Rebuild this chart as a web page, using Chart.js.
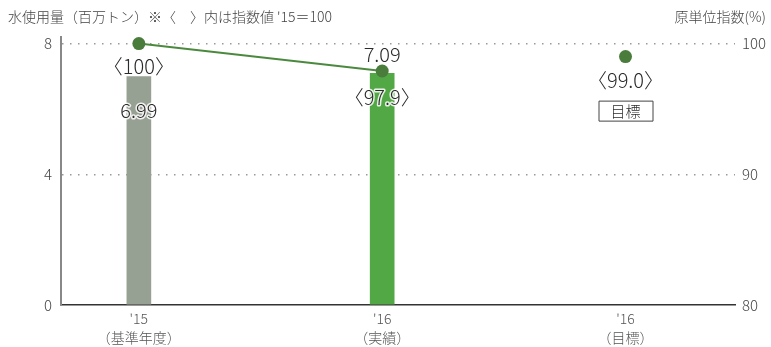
<!DOCTYPE html>
<html>
<head>
<meta charset="utf-8">
<script src="https://cdn.jsdelivr.net/npm/chart.js@4/dist/chart.umd.min.js"></script>
<style>
  html, body { margin: 0; padding: 0; background: #fff; }
  #wrap { width: 771px; height: 347px; position: relative; }
</style>
</head>
<body>
<div id="wrap"><canvas id="waterChart" width="771" height="347"></canvas></div>
<script>
const categories = [["'15", '（基準年度）'], ["'16", '（実績）'], ["'16", '（目標）']];
const waterUse = [6.99, 7.09];          // 百万トン
const indexActual = [100, 97.9];       // '15 = 100
const indexTarget = 99.0;
const leftTicks = [0, 4, 8];
const rightTicks = [80, 90, 100];

const FONT = "'Noto Sans CJK JP', 'Noto Sans', sans-serif";
const TEXT = '#2b2b2b';

const barColors = ['#97a193', '#52a845'];
const lineGreen = '#4b8a3e';
const dotGreen = '#4a7d3c';

// titles, value labels and the 目標 box
const labelPlugin = {
  id: 'labels',
  afterDatasetsDraw(chart) {
    const ctx = chart.ctx;
    const bars = chart.getDatasetMeta(1).data;
    const line = chart.getDatasetMeta(0).data;
    const goal = chart.getDatasetMeta(2).data[0];
    ctx.save();
    ctx.textBaseline = 'middle';

    ctx.fillStyle = '#444';
    ctx.font = '300 14px ' + FONT;
    ctx.textAlign = 'left';
    ctx.fillText("水使用量（百万トン）※〈　〉内は指数値 '15＝100", 8, 17);
    ctx.textAlign = 'right';
    ctx.fillText('原単位指数(%)', 766, 17);

    const put = (txt, x, y, halo) => {
      ctx.textAlign = 'center';
      if (halo) {
        ctx.strokeStyle = 'rgba(255,255,255,0.85)';
        ctx.lineWidth = 3;
        ctx.lineJoin = 'round';
        ctx.strokeText(txt, x, y);
      }
      ctx.fillStyle = TEXT;
      ctx.fillText(txt, x, y);
    };

    ctx.font = '300 20px ' + FONT;
    put(waterUse[0].toFixed(2), bars[0].x, bars[0].y + 34, true);
    put(waterUse[1].toFixed(2), bars[1].x, bars[1].y - 19, false);
    put('〈' + indexActual[0] + '〉', line[0].x, line[0].y + 23, false);
    put('〈' + indexActual[1].toFixed(1) + '〉', line[1].x, line[1].y + 26, true);
    put('〈' + indexTarget.toFixed(1) + '〉', goal.x, goal.y + 24, false);

    // 目標 box
    const bx = goal.x - 27, by = goal.y + 44;
    ctx.strokeStyle = '#444';
    ctx.lineWidth = 1;
    ctx.strokeRect(bx + 0.5, by + 0.5, 54, 20);
    ctx.font = '300 15px ' + FONT;
    put('目標', goal.x, by + 11, false);
    ctx.restore();
  }
};

new Chart(document.getElementById('waterChart'), {
  data: {
    datasets: [
      {
        type: 'line',
        order: 0,
        data: indexActual.map((v, i) => ({ x: i, y: v })),
        yAxisID: 'y1',
        borderColor: lineGreen,
        borderWidth: 2,
        pointRadius: 6.5,
        pointBackgroundColor: dotGreen,
        pointBorderWidth: 0
      },
      {
        type: 'bar',
        order: 2,
        data: waterUse.map((v, i) => ({ x: i, y: v })),
        yAxisID: 'y',
        backgroundColor: barColors,
        barThickness: 24
      },
      {
        type: 'line',
        order: 1,
        data: [{ x: 2, y: indexTarget }],
        yAxisID: 'y1',
        showLine: false,
        pointRadius: 6.5,
        pointBackgroundColor: dotGreen,
        pointBorderWidth: 0
      }
    ]
  },
  options: {
    responsive: false,
    animation: false,
    devicePixelRatio: 1,
    layout: { padding: { top: 37, left: 0, right: 0, bottom: 0 } },
    plugins: { legend: { display: false }, tooltip: { enabled: false } },
    scales: {
      x: {
        type: 'linear',
        offset: false,
        min: -0.32,
        max: 2.45,
        afterBuildTicks: s => { s.ticks = categories.map((c, i) => ({ value: i })); },
        afterFit: s => { s.height = 42; },
        grid: { display: false, drawTicks: false, offset: false },
        border: { color: '#333', width: 1.5 },
        ticks: {
          callback: v => categories[v],
          color: '#555',
          padding: 4,
          maxRotation: 0,
          autoSkip: false,
          font: { family: FONT, size: 14, weight: '300', lineHeight: 1.35 }
        }
      },
      y: {
        position: 'left',
        min: 0,
        max: 8.2,
        afterBuildTicks: s => { s.ticks = leftTicks.map(v => ({ value: v })); },
        afterFit: s => { s.width = 61; },
        grid: {
          drawTicks: false,
          color: c => (c.tick && c.tick.value === 0 ? 'rgba(0,0,0,0)' : '#999'),
          lineWidth: 1.5
        },
        border: { color: '#888', width: 2, dash: [1.5, 6.5] },
        ticks: { color: '#444', padding: 9, font: { family: FONT, size: 15, weight: '300' } }
      },
      y1: {
        position: 'right',
        min: 80,
        max: 100.5,
        afterBuildTicks: s => { s.ticks = rightTicks.map(v => ({ value: v })); },
        afterFit: s => { s.width = 36; },
        grid: { display: false, drawTicks: false },
        border: { display: false },
        ticks: { color: '#444', padding: 7, font: { family: FONT, size: 15, weight: '300' } }
      }
    }
  },
  plugins: [labelPlugin]
});
</script>
</body>
</html>
